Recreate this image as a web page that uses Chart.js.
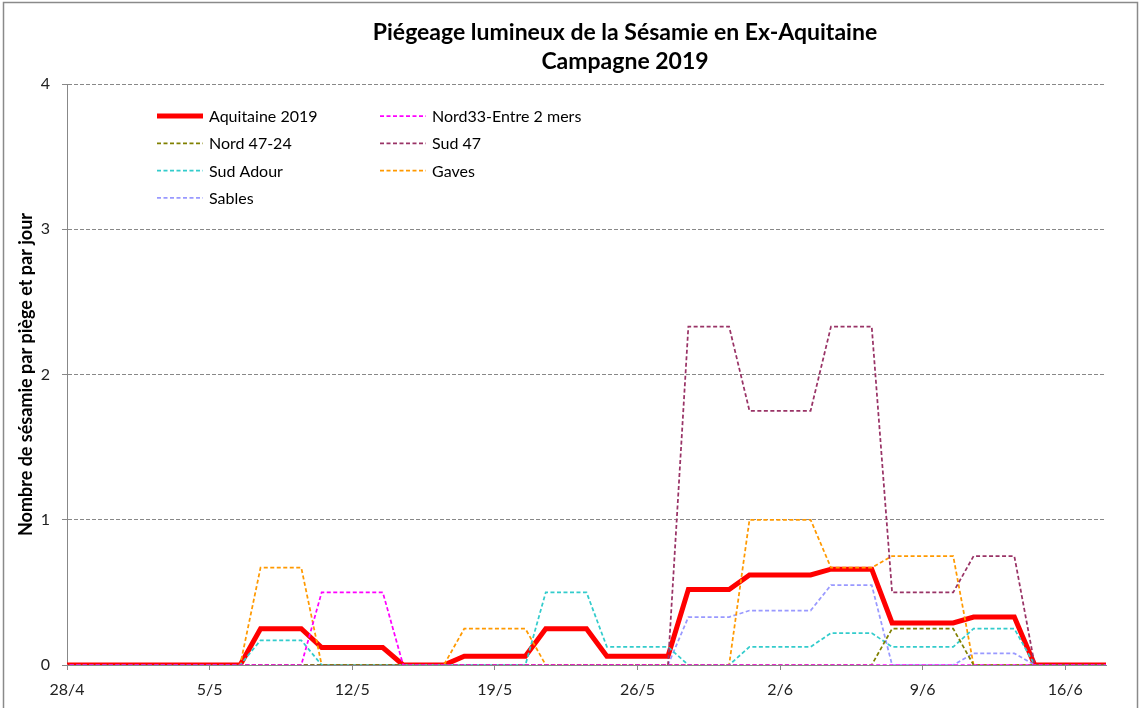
<!DOCTYPE html>
<html>
<head>
<meta charset="utf-8">
<script src="https://cdn.jsdelivr.net/npm/chart.js@4.4.0/dist/chart.umd.min.js"></script>
<style>
    html, body { margin: 0; padding: 0; background: #fff; }
    #wrap { position: relative; width: 1141px; height: 708px; }
</style>
</head>
<body>
<div id="wrap"><canvas id="sesamieChart" width="1141" height="708"></canvas></div>
<script>
// Une valeur par jour, du 27/4 au 18/6 (relevés placés à midi)
const tickLabels = ['28/4', '5/5', '12/5', '19/5', '26/5', '2/6', '9/6', '16/6'];

const aquitaine2019 = [
    0, 0, 0, 0, 0, 0, 0, 0, 0, 0,
    0.25, 0.25, 0.25,
    0.12, 0.12, 0.12, 0.12,
    0, 0, 0,
    0.06, 0.06, 0.06, 0.06,
    0.25, 0.25, 0.25,
    0.06, 0.06, 0.06, 0.06,
    0.52, 0.52, 0.52,
    0.62, 0.62, 0.62, 0.62,
    0.66, 0.66, 0.66,
    0.29, 0.29, 0.29, 0.29,
    0.33, 0.33, 0.33,
    0, 0, 0, 0, 0
];
const nord33 = [
    0, 0, 0, 0, 0, 0, 0, 0, 0, 0,
    0, 0, 0,
    0.5, 0.5, 0.5, 0.5,
    0, 0, 0,
    0, 0, 0, 0,
    0, 0, 0,
    0, 0, 0, 0,
    0, 0, 0,
    0, 0, 0, 0,
    0, 0, 0,
    0, 0, 0, 0,
    0, 0, 0,
    0, 0, 0, 0, 0
];
const nord4724 = [
    0, 0, 0, 0, 0, 0, 0, 0, 0, 0,
    0, 0, 0,
    0, 0, 0, 0,
    0, 0, 0,
    0, 0, 0, 0,
    0, 0, 0,
    0, 0, 0, 0,
    0, 0, 0,
    0, 0, 0, 0,
    0, 0, 0,
    0.25, 0.25, 0.25, 0.25,
    0, 0, 0,
    0, 0, 0, 0, 0
];
const sud47 = [
    0, 0, 0, 0, 0, 0, 0, 0, 0, 0,
    0, 0, 0,
    0, 0, 0, 0,
    0, 0, 0,
    0, 0, 0, 0,
    0, 0, 0,
    0, 0, 0, 0,
    2.33, 2.33, 2.33,
    1.75, 1.75, 1.75, 1.75,
    2.33, 2.33, 2.33,
    0.5, 0.5, 0.5, 0.5,
    0.75, 0.75, 0.75,
    0, 0, 0, 0, 0
];
const sudAdour = [
    0, 0, 0, 0, 0, 0, 0, 0, 0, 0,
    0.17, 0.17, 0.17,
    0, 0, 0, 0,
    0, 0, 0,
    0, 0, 0, 0,
    0.5, 0.5, 0.5,
    0.125, 0.125, 0.125, 0.125,
    0, 0, 0,
    0.125, 0.125, 0.125, 0.125,
    0.22, 0.22, 0.22,
    0.125, 0.125, 0.125, 0.125,
    0.25, 0.25, 0.25,
    0, 0, 0, 0, 0
];
const gaves = [
    0, 0, 0, 0, 0, 0, 0, 0, 0, 0,
    0.67, 0.67, 0.67,
    0, 0, 0, 0,
    0, 0, 0,
    0.25, 0.25, 0.25, 0.25,
    0, 0, 0,
    0, 0, 0, 0,
    0, 0, 0,
    1, 1, 1, 1,
    0.67, 0.67, 0.67,
    0.75, 0.75, 0.75, 0.75,
    0, 0, 0,
    0, 0, 0, 0, 0
];
const sables = [
    0, 0, 0, 0, 0, 0, 0, 0, 0, 0,
    0, 0, 0,
    0, 0, 0, 0,
    0, 0, 0,
    0, 0, 0, 0,
    0, 0, 0,
    0, 0, 0, 0,
    0.33, 0.33, 0.33,
    0.375, 0.375, 0.375, 0.375,
    0.55, 0.55, 0.55,
    0, 0, 0, 0,
    0.08, 0.08, 0.08,
    0, 0, 0, 0, 0
];

const FONT = "Lato, 'Liberation Sans', sans-serif";

// jour 0 = 28/4 à 0h ; l'index 0 du tableau est le 27/4
const toPoints = (values) => values.map((v, i) => ({ x: i - 0.5, y: v }));

function dashed(label, values, color) {
    return {
        label: label,
        data: toPoints(values),
        borderColor: color,
        backgroundColor: color,
        borderWidth: 1.75,
        borderDash: [4, 2.5],
        pointRadius: 0,
        tension: 0,
        order: 0
    };
}

// Titre en deux lignes, un peu décalé à droite comme dans Excel
const titlePlugin = {
    id: 'twoLineTitle',
    afterDraw(chart) {
        const ctx = chart.ctx;
        ctx.save();
        ctx.fillStyle = '#000';
        ctx.font = "bold 23px " + FONT;
        ctx.textAlign = 'center';
        ctx.textBaseline = 'middle';
        ctx.fillText('Piégeage lumineux de la Sésamie en Ex-Aquitaine', 625, 33);
        ctx.fillText('Campagne 2019', 625, 62);
        ctx.restore();
    }
};

// Cadre gris de la zone graphique
const framePlugin = {
    id: 'frame',
    beforeDraw(chart) {
        const ctx = chart.ctx;
        ctx.save();
        ctx.fillStyle = '#fff';
        ctx.fillRect(0, 0, chart.width, chart.height);
        ctx.strokeStyle = '#8a8a8a';
        ctx.lineWidth = 1.5;
        ctx.strokeRect(3.5, 2.5, chart.width - 7, chart.height + 20);
        ctx.restore();
    }
};

// Légende sur deux colonnes, dans la zone de tracé
const legendPlugin = {
    id: 'insideLegend',
    afterDatasetsDraw(chart) {
        const ctx = chart.ctx;
        const area = chart.chartArea;
        ctx.save();
        ctx.font = "16px " + FONT;
        ctx.textBaseline = 'middle';
        ctx.fillStyle = '#000';
        chart.data.datasets.forEach((ds, i) => {
            const col = i % 2;
            const row = Math.floor(i / 2);
            const x = area.left + 90 + col * 223;
            const y = area.top + 32 + row * 27.3;
            ctx.save();
            ctx.strokeStyle = ds.borderColor;
            ctx.lineWidth = ds.borderWidth;
            ctx.setLineDash(ds.borderDash || []);
            ctx.beginPath();
            ctx.moveTo(x, y);
            ctx.lineTo(x + 46, y);
            ctx.stroke();
            ctx.restore();
            ctx.fillText(ds.label, x + 52, y + 1);
        });
        ctx.restore();
    }
};

const ctx = document.getElementById('sesamieChart').getContext('2d');

new Chart(ctx, {
    type: 'line',
    data: {
        datasets: [
            {
                label: 'Aquitaine 2019',
                data: toPoints(aquitaine2019),
                borderColor: '#ff0000',
                backgroundColor: '#ff0000',
                borderWidth: 5,
                pointRadius: 0,
                tension: 0,
                order: 10
            },
            dashed('Nord33-Entre 2 mers', nord33, '#ff00ff'),
            dashed('Nord 47-24', nord4724, '#808000'),
            dashed('Sud 47', sud47, '#993366'),
            dashed('Sud Adour', sudAdour, '#33cccc'),
            dashed('Gaves', gaves, '#ff9900'),
            dashed('Sables', sables, '#9999ff')
        ]
    },
    options: {
        responsive: false,
        animation: false,
        layout: {
            padding: { left: 0, top: 84, right: 35, bottom: 0 }
        },
        scales: {
            x: {
                type: 'linear',
                min: 0,
                max: 51,
                afterBuildTicks(scale) {
                    scale.ticks = tickLabels.map((_, k) => ({ value: k * 7 }));
                },
                afterFit(scale) {
                    scale.height = 43;
                },
                grid: {
                    drawOnChartArea: false,
                    drawTicks: true,
                    tickLength: 5,
                    tickColor: '#888'
                },
                border: {
                    color: '#888',
                    width: 1
                },
                ticks: {
                    color: '#222',
                    padding: 10,
                    maxRotation: 0,
                    autoSkip: false,
                    font: { family: FONT, size: 16 },
                    callback: (value, index) => tickLabels[index]
                }
            },
            y: {
                min: 0,
                max: 4,
                afterFit(scale) {
                    scale.width = 67;
                },
                grid: {
                    color: (c) => c.tick && c.tick.value === 0 ? 'rgba(0,0,0,0)' : '#888',
                    lineWidth: 1,
                    tickLength: 5,
                    tickColor: '#888'
                },
                border: {
                    color: '#888',
                    width: 1,
                    dash: [4, 2]
                },
                ticks: {
                    stepSize: 1,
                    color: '#222',
                    padding: 12,
                    font: { family: FONT, size: 16 }
                },
                title: {
                    display: true,
                    text: 'Nombre de sésamie par piège et par jour',
                    color: '#000',
                    padding: { top: 15, bottom: 0 },
                    font: { family: FONT, size: 18, weight: 'bold' }
                }
            }
        },
        plugins: {
            legend: { display: false },
            title: { display: false },
            tooltip: { enabled: false }
        }
    },
    plugins: [framePlugin, legendPlugin, titlePlugin]
});
</script>
</body>
</html>
